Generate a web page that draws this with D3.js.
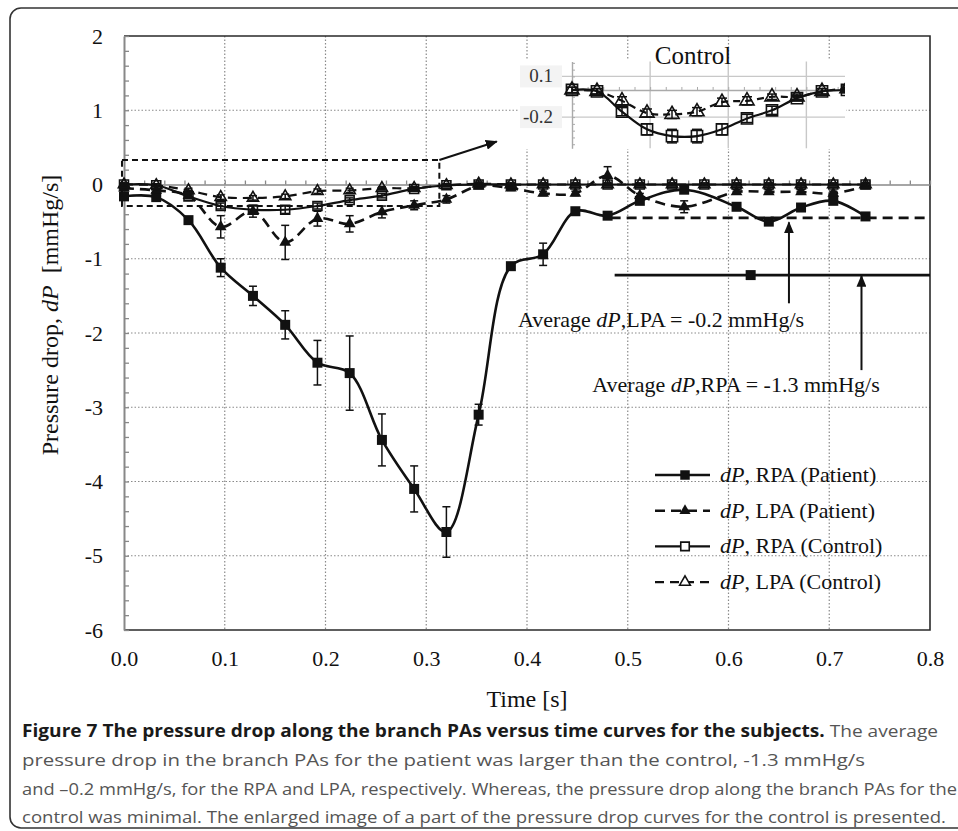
<!DOCTYPE html>
<html>
<head>
  <meta charset='utf-8'>
  <title>Pressure drop along the branch PAs</title>
  <script src='https://cdn.jsdelivr.net/npm/d3@7'></script>
  <style>
    body { margin: 0; background: #fff; }
    svg { display: block; }
  </style>
</head>
<body>
  <svg id='plot-area' width='958' height='831'>
    <defs>
      <marker id='arrow-head' markerWidth='12' markerHeight='10' refX='11' refY='5'
          orient='auto' markerUnits='userSpaceOnUse'>
        <path d='M0,0 L12,5 L0,10 Z' style='fill: #111; stroke: none'></path>
      </marker>
      <clipPath id='inset-clip'>
        <rect x='560' y='55' width='285' height='100'></rect>
      </clipPath>
    </defs>
  </svg>
  <script>
    // time points [s]
    const timeControl = [0.000, 0.032, 0.064, 0.096, 0.128, 0.160, 0.192, 0.224, 0.256, 0.288, 0.320, 0.352,
        0.384, 0.416, 0.448, 0.480, 0.512, 0.544, 0.576, 0.608, 0.640, 0.672, 0.704, 0.736];
    const timePatient = [0.000, 0.032, 0.064, 0.096, 0.128, 0.160, 0.192, 0.224, 0.256, 0.288, 0.320, 0.352,
        0.384, 0.416, 0.448, 0.480, 0.512, 0.556, 0.608, 0.640, 0.672, 0.704, 0.736];

    // pressure drop [mmHg/s] and error bar half-heights
    const rpaPatient = [-0.16, -0.17, -0.48, -1.12, -1.50, -1.89, -2.40, -2.54, -3.44, -4.10, -4.68, -3.10,
        -1.10, -0.94, -0.36, -0.42, -0.22, -0.07, -0.30, -0.50, -0.31, -0.22, -0.43];
    const rpaPatientErr = [0.03, 0.03, 0.04, 0.12, 0.13, 0.19, 0.30, 0.50, 0.35, 0.31, 0.34, 0.14,
        0.04, 0.15, 0.03, 0.03, 0.03, 0.03, 0.03, 0.03, 0.03, 0.03, 0.03];
    const lpaPatient = [-0.05, -0.08, -0.15, -0.57, -0.36, -0.78, -0.46, -0.53, -0.37, -0.28, -0.20, -0.02,
        -0.05, -0.12, -0.12, 0.12, -0.15, -0.30, -0.10, -0.10, -0.10, -0.12, -0.02];
    const lpaPatientErr = [0.03, 0.03, 0.04, 0.15, 0.08, 0.23, 0.10, 0.11, 0.08, 0.06, 0.05, 0.03,
        0.03, 0.03, 0.03, 0.12, 0.03, 0.08, 0.03, 0.03, 0.03, 0.03, 0.03];
    const rpaControl = [0.00, -0.01, -0.16, -0.29, -0.34, -0.34, -0.29, -0.21, -0.15, -0.06, -0.01, 0.00,
        0.00, 0.00, 0.00, 0.00, 0.00, 0.00, 0.00, 0.00, 0.00, 0.00, 0.00, 0.00];
    const rpaControlErr = [0.02, 0.02, 0.03, 0.04, 0.05, 0.05, 0.04, 0.03, 0.03, 0.02, 0.02, 0.02,
        0.02, 0.02, 0.02, 0.02, 0.02, 0.02, 0.02, 0.02, 0.02, 0.02, 0.02, 0.02];
    const lpaControl = [0.00, -0.01, -0.08, -0.17, -0.18, -0.16, -0.09, -0.08, -0.05, -0.05, -0.01, 0.01,
        0.00, 0.00, 0.00, 0.00, 0.00, 0.00, 0.00, 0.00, 0.00, 0.00, 0.00, 0.00];
    const lpaControlErr = [0.02, 0.02, 0.03, 0.03, 0.03, 0.03, 0.03, 0.03, 0.02, 0.02, 0.02, 0.02,
        0.02, 0.02, 0.02, 0.02, 0.02, 0.02, 0.02, 0.02, 0.02, 0.02, 0.02, 0.02];

    // ticks
    const xTickLabels = [0.0, 0.1, 0.2, 0.3, 0.4, 0.5, 0.6, 0.7, 0.8];
    const yTickLabels = [2, 1, 0, -1, -2, -3, -4, -5, -6];
    const insetTickLabels = [0.1, -0.2];
    const legendLabels = ['RPA (Patient)', 'LPA (Patient)', 'RPA (Control)', 'LPA (Control)'];

    // annotations (in data units)
    const zoomBox = [[-0.002, 0.33], [0.313, -0.29]];
    const zoomArrow = [[0.313, 0.33], [0.37, 0.58]];
    const avgLpaLine = [[0.483, -0.45], [0.795, -0.45]];
    const avgRpaLine = [[0.487, -1.22], [0.800, -1.22]];
    const avgRpaMarker = [0.622, -1.22];
    const lpaArrow = [[0.660, -1.60], [0.660, -0.51]];
    const rpaArrow = [[0.732, -2.50], [0.732, -1.23]];

    const captionBold = 'Figure 7 The pressure drop along the branch PAs versus time curves for the subjects.';
    const captionLines = [
        ' The average',
        'pressure drop in the branch PAs for the patient was larger than the control, -1.3 mmHg/s',
        'and \u20130.2 mmHg/s, for the RPA and LPA, respectively. Whereas, the pressure drop along the branch PAs for the',
        'control was minimal. The enlarged image of a part of the pressure drop curves for the control is presented.'
    ];

    const serif = "'Liberation Serif', 'Times New Roman', serif";
    const svg = d3.select('#plot-area');
    const margin = { top: 36, right: 28, bottom: 201, left: 124 };
    const width = 958 - (margin.left + margin.right);
    const height = 831 - (margin.top + margin.bottom);

    // outer rounded frame
    svg.append('rect')
        .attr('x', 10).attr('y', 8)
        .attr('width', 990).attr('height', 820)
        .attr('rx', 11)
        .attr('fill', 'none')
        .attr('stroke', '#333')
        .attr('stroke-width', 1.6);

    const g = svg.append('g')
        .attr('transform', `translate(${margin.left}, ${margin.top})`);

    const scaleX = d3.scaleLinear().domain([0, 0.8]).range([0, width]);
    const scaleY = d3.scaleLinear().domain([-6, 2]).range([height, 0]);

    // dotted grid
    g.append('g').selectAll('line')
        .data(yTickLabels.filter((d) => d !== 0 && d !== 2 && d !== -6))
        .join('line')
        .attr('x1', 0).attr('x2', width)
        .attr('y1', (d) => scaleY(d)).attr('y2', (d) => scaleY(d))
        .attr('stroke', '#8a8a8a').attr('stroke-width', 1.2).attr('stroke-dasharray', '1.5,2');
    g.append('g').selectAll('line')
        .data(xTickLabels.filter((d) => d > 0 && d < 0.8))
        .join('line')
        .attr('y1', 0).attr('y2', height)
        .attr('x1', (d) => scaleX(d)).attr('x2', (d) => scaleX(d))
        .attr('stroke', '#8a8a8a').attr('stroke-width', 1.2).attr('stroke-dasharray', '1.5,2');

    // frame: top, right, bottom
    g.append('path')
        .attr('d', `M0,0 H${width} V${height} H0`)
        .attr('fill', 'none').attr('stroke', '#2a2a2a').attr('stroke-width', 1.6);

    // y axis with minor ticks pointing inside
    const yMinor = g.append('g')
        .call(d3.axisRight(scaleY).ticks(40).tickSize(5).tickSizeOuter(0).tickFormat(''));
    yMinor.select('.domain').attr('stroke', '#888').attr('stroke-width', 2);
    yMinor.selectAll('.tick line').attr('stroke', '#888').attr('stroke-width', 1.3);

    const yLabels = g.append('g')
        .call(d3.axisLeft(scaleY).tickValues(yTickLabels).tickSize(0).tickPadding(21).tickFormat((d) => String(d)));
    yLabels.select('.domain').remove();
    yLabels.selectAll('text').attr('font-family', serif).attr('font-size', 22).attr('fill', '#111');

    // x axis along zero with minor ticks
    const xMinor = g.append('g')
        .attr('transform', `translate(0, ${scaleY(0)})`)
        .call(d3.axisTop(scaleX).ticks(40).tickSize(4).tickSizeOuter(0).tickFormat(''));
    xMinor.select('.domain').attr('stroke', '#888').attr('stroke-width', 1.6);
    xMinor.selectAll('.tick line').attr('stroke', '#888').attr('stroke-width', 1.3);

    const xLabels = g.append('g')
        .attr('transform', `translate(0, ${height})`)
        .call(d3.axisBottom(scaleX).tickValues(xTickLabels).tickSize(0).tickPadding(20).tickFormat(d3.format('.1f')));
    xLabels.select('.domain').remove();
    xLabels.selectAll('text').attr('font-family', serif).attr('font-size', 22).attr('fill', '#111');

    // axis titles
    svg.append('text')
        .attr('x', margin.left + width / 2).attr('y', 707)
        .attr('text-anchor', 'middle')
        .attr('font-family', serif).attr('font-size', 24).attr('fill', '#111')
        .text('Time [s]');
    const yTitle = svg.append('text')
        .attr('transform', 'translate(58, 315) rotate(-90)')
        .attr('text-anchor', 'middle')
        .attr('font-family', serif).attr('font-size', 24).attr('fill', '#111');
    yTitle.append('tspan').text('Pressure drop, ');
    yTitle.append('tspan').attr('font-style', 'italic').text('dP');
    yTitle.append('tspan').text('\u00a0 [mmHg/s]');

    // series
    const series = [
        { t: timePatient, v: rpaPatient, e: rpaPatientErr, dash: null, width: 2.6, shape: d3.symbolSquare, size: 100, fill: '#111' },
        { t: timePatient, v: lpaPatient, e: lpaPatientErr, dash: '10,6', width: 2.6, shape: d3.symbolTriangle, size: 60, fill: '#111' },
        { t: timeControl, v: rpaControl, e: rpaControlErr, dash: null, width: 2.2, shape: d3.symbolSquare, size: 80, fill: 'none' },
        { t: timeControl, v: lpaControl, e: lpaControlErr, dash: '9,6', width: 2.2, shape: d3.symbolTriangle, size: 55, fill: 'none' }
    ];

    function drawSeries(parent, sx, sy, s, scale) {
        const data = d3.zip(s.t, s.v, s.e);
        const line = d3.line()
            .x((d) => sx(d[0]))
            .y((d) => sy(d[1]))
            .curve(d3.curveCatmullRom.alpha(0.5));
        parent.append('path')
            .datum(data)
            .attr('fill', 'none')
            .attr('stroke', '#111')
            .attr('stroke-width', s.width)
            .attr('stroke-dasharray', s.dash)
            .attr('d', line);
        const bars = parent.append('g').selectAll('g')
            .data(data)
            .join('g')
            .attr('stroke', '#111')
            .attr('stroke-width', 1.5);
        bars.append('line')
            .attr('x1', (d) => sx(d[0])).attr('x2', (d) => sx(d[0]))
            .attr('y1', (d) => sy(d[1] - d[2])).attr('y2', (d) => sy(d[1] + d[2]));
        [-1, 1].forEach((sign) => {
            bars.append('line')
                .attr('x1', (d) => sx(d[0]) - 4 * scale).attr('x2', (d) => sx(d[0]) + 4 * scale)
                .attr('y1', (d) => sy(d[1] + sign * d[2])).attr('y2', (d) => sy(d[1] + sign * d[2]));
        });
        parent.append('g').selectAll('path')
            .data(data)
            .join('path')
            .attr('transform', (d) => `translate(${sx(d[0])}, ${sy(d[1])})`)
            .attr('d', d3.symbol(s.shape, s.size * scale * scale))
            .attr('fill', s.fill)
            .attr('stroke', '#111')
            .attr('stroke-width', s.fill === 'none' ? 1.6 : 0);
    }

    series.forEach((s) => drawSeries(g, scaleX, scaleY, s, 1));

    // annotations
    g.append('rect')
        .attr('x', scaleX(zoomBox[0][0])).attr('y', scaleY(zoomBox[0][1]))
        .attr('width', scaleX(zoomBox[1][0]) - scaleX(zoomBox[0][0]))
        .attr('height', scaleY(zoomBox[1][1]) - scaleY(zoomBox[0][1]))
        .attr('fill', 'none').attr('stroke', '#111').attr('stroke-width', 2).attr('stroke-dasharray', '6,4');
    const arrowLine = d3.line().x((d) => scaleX(d[0])).y((d) => scaleY(d[1]));
    [zoomArrow, lpaArrow, rpaArrow].forEach((a) => {
        g.append('path')
            .attr('d', arrowLine(a))
            .attr('stroke', '#111').attr('stroke-width', 2)
            .attr('marker-end', 'url(#arrow-head)');
    });
    g.append('path')
        .attr('d', arrowLine(avgLpaLine))
        .attr('stroke', '#111').attr('stroke-width', 2.6).attr('stroke-dasharray', '10,6');
    g.append('path')
        .attr('d', arrowLine(avgRpaLine))
        .attr('stroke', '#111').attr('stroke-width', 2.6);
    g.append('path')
        .attr('transform', `translate(${scaleX(avgRpaMarker[0])}, ${scaleY(avgRpaMarker[1])})`)
        .attr('d', d3.symbol(d3.symbolSquare, 100))
        .attr('fill', '#111');

    function avgLabel(cx, yBase, vessel, value) {
        const t = svg.append('text')
            .attr('x', cx).attr('y', yBase)
            .attr('text-anchor', 'middle')
            .attr('font-family', serif).attr('font-size', 22).attr('fill', '#111');
        t.append('tspan').text('Average ');
        t.append('tspan').attr('font-style', 'italic').text('dP');
        t.append('tspan').text(`,${vessel} = ${value} mmHg/s`);
    }
    avgLabel(661, 327, 'LPA', '-0.2');
    avgLabel(736, 392, 'RPA', '-1.3');

    // legend
    const legend = svg.append('g').attr('transform', 'translate(655, 475)');
    const legendRows = legend.selectAll('g')
        .data(series)
        .join('g')
        .attr('transform', (d, i) => `translate(0, ${i * 35.7})`);
    legendRows.append('line')
        .attr('x1', 0).attr('x2', 55)
        .attr('stroke', '#111').attr('stroke-width', 2.4)
        .attr('stroke-dasharray', (d) => d.dash);
    legendRows.append('path')
        .attr('transform', 'translate(30, 0)')
        .attr('d', (d) => d3.symbol(d.shape, d.size * 0.9)())
        .attr('fill', (d) => d.fill === 'none' ? '#fff' : d.fill)
        .attr('stroke', '#111')
        .attr('stroke-width', (d) => d.fill === 'none' ? 1.6 : 0);
    const legendText = legendRows.append('text')
        .attr('x', 65).attr('y', 7)
        .attr('font-family', serif).attr('font-size', 22).attr('fill', '#111');
    legendText.append('tspan').attr('font-style', 'italic').text('dP');
    legendText.append('tspan').text((d, i) => `, ${legendLabels[i]}`);

    // inset: enlarged control curves
    const insetX = d3.scaleLinear().domain([0, 0.352]).range([572, 847]);
    const insetY = d3.scaleLinear().domain([-0.43, 0.21]).range([148.3, 61.5]);
    svg.append('rect')
        .attr('x', 519).attr('y', 60).attr('width', 327).attr('height', 89)
        .attr('fill', '#fff');
    insetTickLabels.forEach((v) => {
        svg.append('rect')
            .attr('x', 520).attr('y', insetY(v) - 11).attr('width', 42).attr('height', 22)
            .attr('fill', '#f3f3f3');
    });
    const inset = svg.append('g').attr('clip-path', 'url(#inset-clip)');
    inset.append('g').selectAll('line')
        .data(insetTickLabels)
        .join('line')
        .attr('x1', 562).attr('x2', 845)
        .attr('y1', (d) => insetY(d)).attr('y2', (d) => insetY(d))
        .attr('stroke', '#c8c8c8').attr('stroke-width', 1.4);
    inset.append('g').selectAll('line')
        .data([0.1, 0.2, 0.3])
        .join('line')
        .attr('x1', (d) => insetX(d)).attr('x2', (d) => insetX(d))
        .attr('y1', 61.5).attr('y2', 148.3)
        .attr('stroke', '#c8c8c8').attr('stroke-width', 1.4);
    const insetYAxis = inset.append('g')
        .attr('transform', `translate(${insetX(0)}, 0)`)
        .call(d3.axisRight(insetY).ticks(12).tickSize(3).tickSizeOuter(0).tickFormat(''));
    insetYAxis.select('.domain').attr('stroke', '#aaa').attr('stroke-width', 1.4);
    insetYAxis.selectAll('.tick line').attr('stroke', '#aaa');
    const insetXAxis = inset.append('g')
        .attr('transform', `translate(0, ${insetY(0)})`)
        .call(d3.axisTop(insetX).ticks(18).tickSize(3).tickSizeOuter(0).tickFormat(''));
    insetXAxis.select('.domain').attr('stroke', '#aaa').attr('stroke-width', 1.4);
    insetXAxis.selectAll('.tick line').attr('stroke', '#aaa');
    series.slice(2).forEach((s) => {
        drawSeries(inset, insetX, insetY, {
            t: s.t.slice(0, 12), v: s.v.slice(0, 12), e: s.e.slice(0, 12),
            dash: s.dash ? '7,5' : null, width: 2.2, shape: s.shape, size: s.size, fill: 'none'
        }, 1.25);
    });
    svg.append('g').selectAll('text')
        .data(insetTickLabels)
        .join('text')
        .attr('x', 553).attr('y', (d) => insetY(d) + 6)
        .attr('text-anchor', 'end')
        .attr('font-family', serif).attr('font-size', 19).attr('fill', '#333')
        .text((d) => d3.format('.1f')(d).replace('\u2212', '-'));
    svg.append('text')
        .attr('x', 693).attr('y', 64)
        .attr('text-anchor', 'middle')
        .attr('font-family', serif).attr('font-size', 25).attr('fill', '#111')
        .text('Control');

    // caption
    const captionFont = "'Open Sans', 'Noto Sans', sans-serif";
    const captionEnds = [938, 865, 957, 946];
    captionLines.forEach((line, i) => {
        const t = svg.append('text')
            .attr('x', 22).attr('y', 737 + i * 28.8)
            .attr('font-family', captionFont).attr('font-size', 17)
            .attr('textLength', captionEnds[i] - 22)
            .attr('lengthAdjust', 'spacingAndGlyphs');
        if (i === 0) {
            t.append('tspan').attr('font-weight', 'bold').attr('fill', '#1a1a1a').text(captionBold);
        }
        t.append('tspan').attr('fill', '#555').text(line);
    });
  </script>
</body>
</html>
